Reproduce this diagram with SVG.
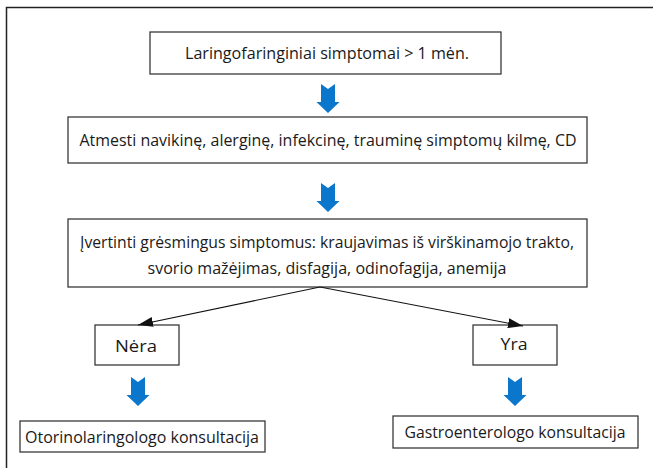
<svg xmlns="http://www.w3.org/2000/svg" width="653" height="468" viewBox="0 0 653 468">
<style>
.box{fill:#fff;stroke:#3a3a3a;stroke-width:1.3}
.t{font-family:"Open Sans","Liberation Sans",sans-serif;font-size:17px;fill:#1a1a1a;text-anchor:middle}
.blue{fill:#0a76cc}
.con{stroke:#111;stroke-width:1.1;fill:none}
</style>
<defs>
<marker id="ah" markerWidth="16" markerHeight="10" refX="15" refY="5" orient="auto" markerUnits="userSpaceOnUse">
<path d="M0,0 L15,5 L0,10 Z" fill="#111"/>
</marker>
<path id="barrow" d="M-7,0 L0,5 L7,0 L7,18 L11.5,18 L0,29 L-11.5,18 L-7,18 Z"/>
</defs>
<rect width="653" height="468" fill="#fff"/>
<path d="M6.5,468 L6.5,7.5 L653,7.5" fill="none" stroke="#222" stroke-width="1.5"/>

<g id="n1"><rect class="box" x="150" y="32" width="351" height="42"/>
<text class="t" x="327" y="59" textLength="284" lengthAdjust="spacingAndGlyphs">Laringofaringiniai simptomai &gt; 1 mėn.</text></g>

<g id="n2"><rect class="box" x="68" y="117" width="519" height="46"/>
<text class="t" x="328" y="146" textLength="497" lengthAdjust="spacingAndGlyphs">Atmesti navikinę, alerginę, infekcinę, trauminę simptomų kilmę, CD</text></g>

<g id="n3"><rect class="box" x="68" y="219" width="519" height="68"/>
<text class="t" x="327" y="248" textLength="494" lengthAdjust="spacingAndGlyphs">Įvertinti grėsmingus simptomus: kraujavimas iš virškinamojo trakto,</text>
<text class="t" x="327" y="274" textLength="359" lengthAdjust="spacingAndGlyphs">svorio mažėjimas, disfagija, odinofagija, anemija</text></g>

<g id="n4"><rect class="box" x="95" y="325" width="84" height="40"/>
<text class="t" x="136" y="352" textLength="42" lengthAdjust="spacingAndGlyphs">Nėra</text></g>

<g id="n5"><rect class="box" x="473" y="325" width="84" height="40"/>
<text class="t" x="514" y="350" textLength="27" lengthAdjust="spacingAndGlyphs">Yra</text></g>

<g id="n6"><rect class="box" x="20" y="421" width="245" height="31"/>
<text class="t" x="142" y="443" textLength="234" lengthAdjust="spacingAndGlyphs">Otorinolaringologo konsultacija</text></g>

<g id="n7"><rect class="box" x="393" y="416" width="245" height="32"/>
<text class="t" x="515" y="438" textLength="221" lengthAdjust="spacingAndGlyphs">Gastroenterologo konsultacija</text></g>

<g id="connectors">
<use href="#barrow" class="blue" x="328" y="84"/>
<use href="#barrow" class="blue" x="328" y="183"/>
<use href="#barrow" class="blue" x="138" y="377"/>
<use href="#barrow" class="blue" x="515" y="377"/>
<line class="con" x1="320" y1="287" x2="138" y2="325" marker-end="url(#ah)"/>
<line class="con" x1="320" y1="287" x2="523" y2="326" marker-end="url(#ah)"/>
</g>
</svg>
